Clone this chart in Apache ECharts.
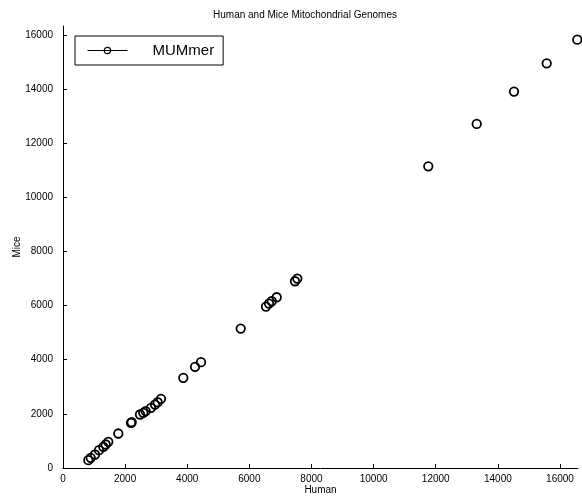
<!DOCTYPE html>
<html><head><meta charset="utf-8">
<script src="https://cdn.jsdelivr.net/npm/echarts@6/dist/echarts.min.js"></script>
<style>html,body{margin:0;padding:0;background:#fff}#c{width:582px;height:499px}</style>
</head><body><div id="c"></div>
<script>
const humanPos = [815, 892, 1030, 1159, 1297, 1375, 1458, 1780, 2189, 2211, 2479, 2585, 2662, 2833, 2962, 3049, 3155, 3873, 4250, 4443, 5721, 6535, 6632, 6719, 6880, 7469, 7543, 11760, 13319, 14520, 15572, 16557];
const micePos  = [288, 377, 499, 657, 783, 868, 968, 1274, 1669, 1690, 1976, 2039, 2098, 2224, 2345, 2430, 2556, 3331, 3738, 3908, 5152, 5965, 6076, 6161, 6309, 6899, 6999, 11147, 12713, 13906, 14951, 15826];
const xTicks = [0, 2000, 4000, 6000, 8000, 10000, 12000, 14000, 16000];
const yTicks = [0, 2000, 4000, 6000, 8000, 10000, 12000, 14000, 16000];
const seriesName = 'MUMmer';
const titleText = 'Human and Mice Mitochondrial Genomes';

const chart = echarts.init(document.getElementById('c'), null, {renderer: 'canvas'});
const font = 'Liberation Sans, Arial, sans-serif';
const fmt = v => String(v);
const axisCommon = {
  min: 0, interval: 2000,
  splitLine: {show: false},
  nameMoveOverlap: false,
  axisLine: {show: true, onZero: false, lineStyle: {color: '#000', width: 1}},
  axisTick: {show: true, inside: true, length: 4, lineStyle: {color: '#000'}},
  axisLabel: {color: '#000', fontSize: 10, fontFamily: font, formatter: fmt},
  nameTextStyle: {color: '#000', fontSize: 10, fontFamily: font},
  nameLocation: 'middle'
};
chart.setOption({
  animation: false,
  backgroundColor: '#fff',
  title: {text: titleText, left: 300, textAlign: 'center', top: 5,
    textStyle: {fontSize: 10, fontWeight: 'normal', color: '#000', fontFamily: font}},
  grid: {left: 63, right: 4, top: 26, bottom: 31, outerBoundsMode: 'none', containLabel: false},
  xAxis: Object.assign({}, axisCommon, {type: 'value', max: 16580, name: 'Human', nameGap: 17,
    axisTick: Object.assign({}, axisCommon.axisTick, {customValues: xTicks}),
    axisLabel: Object.assign({}, axisCommon.axisLabel, {customValues: xTicks, margin: 6})}),
  yAxis: Object.assign({}, axisCommon, {type: 'value', max: 16330, name: 'Mice', nameGap: 41,
    axisTick: Object.assign({}, axisCommon.axisTick, {customValues: yTicks}),
    axisLabel: Object.assign({}, axisCommon.axisLabel, {customValues: yTicks, margin: 10})}),
  legend: {
    left: 75, top: 36, orient: 'vertical',
    borderColor: '#000', borderWidth: 1, borderRadius: 0,
    padding: [7, 9, 7, 12],
    itemWidth: 40, itemHeight: 8,
    textStyle: {fontSize: 15, color: '#000', fontFamily: font, padding: [0, 0, 0, 20]},
    lineStyle: {color: '#000', width: 1, opacity: 1},
    itemStyle: {color: 'rgba(0,0,0,0)', borderColor: '#000', borderWidth: 1.2},
    data: [seriesName]
  },
  series: [{
    name: seriesName, type: 'line',
    data: humanPos.map((h, i) => [h, micePos[i]]),
    symbol: 'circle', symbolSize: 8.5, showSymbol: true,
    lineStyle: {width: 0, opacity: 0},
    itemStyle: {color: 'rgba(0,0,0,0)', borderColor: '#000', borderWidth: 1.8},
    emphasis: {disabled: true}
  }]
});
</script></body></html>
